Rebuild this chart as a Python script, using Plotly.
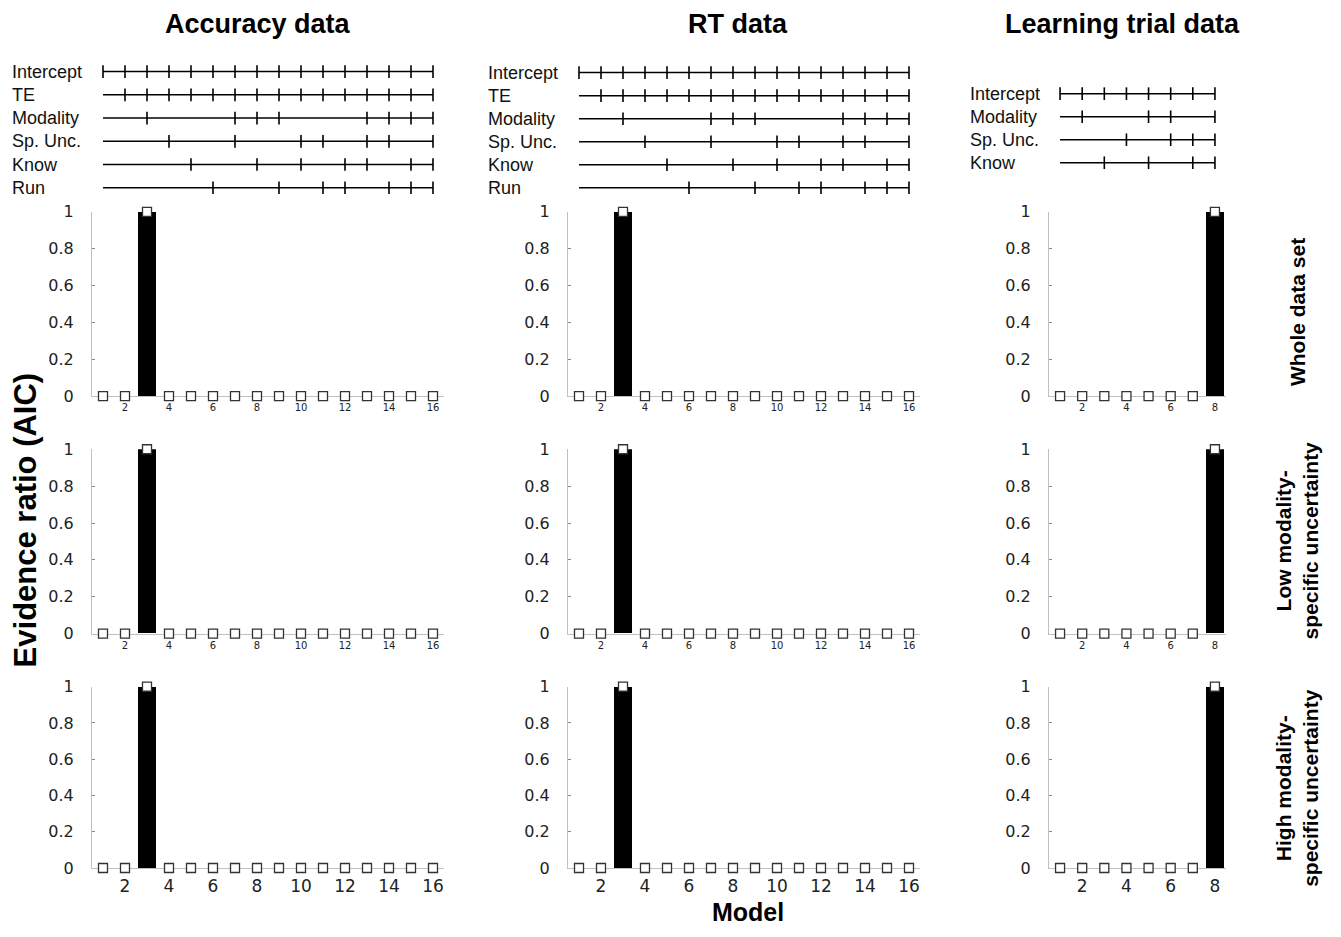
import plotly.graph_objects as go

# ---------------- data ----------------
models_16 = list(range(1, 17))
models_8 = list(range(1, 9))

# Evidence ratios (AIC)
acc_whole = [0, 0, 1, 0, 0, 0, 0, 0, 0, 0, 0, 0, 0, 0, 0, 0]
acc_low = [0, 0, 1, 0, 0, 0, 0, 0, 0, 0, 0, 0, 0, 0, 0, 0]
acc_high = [0, 0, 1, 0, 0, 0, 0, 0, 0, 0, 0, 0, 0, 0, 0, 0]
rt_whole = [0, 0, 1, 0, 0, 0, 0, 0, 0, 0, 0, 0, 0, 0, 0, 0]
rt_low = [0, 0, 1, 0, 0, 0, 0, 0, 0, 0, 0, 0, 0, 0, 0, 0]
rt_high = [0, 0, 1, 0, 0, 0, 0, 0, 0, 0, 0, 0, 0, 0, 0, 0]
learn_whole = [0, 0, 0, 0, 0, 0, 0, 1]
learn_low = [0, 0, 0, 0, 0, 0, 0, 1]
learn_high = [0, 0, 0, 0, 0, 0, 0, 1]

# Model structure: models that include each term
terms_16 = ["Intercept", "TE", "Modality", "Sp. Unc.", "Know", "Run"]
acc_intercept = list(range(1, 17))
acc_te = list(range(2, 17))
acc_modality = [3, 7, 8, 9, 13, 14, 15, 16]
acc_spunc = [4, 7, 10, 11, 13, 14, 16]
acc_know = [5, 8, 10, 12, 13, 15, 16]
acc_run = [6, 9, 11, 12, 14, 15, 16]

rt_intercept = list(range(1, 17))
rt_te = list(range(2, 17))
rt_modality = [3, 7, 8, 9, 13, 14, 15, 16]
rt_spunc = [4, 7, 10, 11, 13, 14, 16]
rt_know = [5, 8, 10, 12, 13, 15, 16]
rt_run = [6, 9, 11, 12, 14, 15, 16]

terms_8 = ["Intercept", "Modality", "Sp. Unc.", "Know"]
learn_intercept = list(range(1, 9))
learn_modality = [2, 5, 6, 8]
learn_spunc = [4, 6, 7, 8]
learn_know = [3, 5, 7, 8]

col_titles = ["Accuracy data", "RT data", "Learning trial data"]
row_titles = ["Whole data set", "Low modality-<br>specific uncertainty",
              "High modality-<br>specific uncertainty"]
y_ticks = [0, 0.2, 0.4, 0.6, 0.8, 1]
y_ticktext = ["0", "0.2", "0.4", "0.6", "0.8", "1"]

# ---------------- layout helpers ----------------
W, H = 1341, 937
# empirical vertical correction
VA, VB = 0.978, 9.5


def fx(p):
    return p / W


def fy(p):
    p = (p - VB) / VA
    return 1 - p / H


col_px = [(92, 444), (568, 920), (1049, 1226)]
row_px = [(212, 396), (449, 633), (686, 867)]
col_models = [models_16, models_16, models_8]
series = [[acc_whole, rt_whole, learn_whole],
          [acc_low, rt_low, learn_low],
          [acc_high, rt_high, learn_high]]

TXT = "Liberation Sans, Arial, sans-serif"
TICK = "DejaVu Sans, Verdana, sans-serif"

fig = go.Figure()
layout = {}
ax = 0
for r in range(3):
    for c in range(3):
        ax += 1
        xs = col_models[c]
        vals = series[r][c]
        n = len(xs)
        xa = "x" if ax == 1 else f"x{ax}"
        ya = "y" if ax == 1 else f"y{ax}"
        fig.add_trace(go.Bar(x=xs, y=vals, width=0.85, marker_color="black",
                             marker_line_width=0, xaxis=xa, yaxis=ya,
                             showlegend=False))
        fig.add_trace(go.Scatter(x=xs, y=vals, mode="markers", cliponaxis=False,
                                 marker=dict(symbol="square", size=9, color="white",
                                             line=dict(color="#333333", width=1.3)),
                                 xaxis=xa, yaxis=ya, showlegend=False))
        small = r < 2
        layout["xaxis" + ("" if ax == 1 else str(ax))] = dict(
            domain=[fx(col_px[c][0]), fx(col_px[c][1])], range=[0.5, n + 0.5],
            anchor=ya, showline=True, linecolor="#c0c0c0", linewidth=1.2,
            showgrid=False, zeroline=False, ticks="", layer="below traces",
            tickvals=list(range(2, n + 1, 2)),
            tickfont=dict(family=TICK, size=10 if small else 17, color="#222"),
            ticklabelstandoff=2)
        layout["yaxis" + ("" if ax == 1 else str(ax))] = dict(
            domain=[fy(row_px[r][1]), fy(row_px[r][0])], range=[0, 1],
            anchor=xa, showline=True, linecolor="#c0c0c0", linewidth=1.2,
            showgrid=False, zeroline=False, ticks="inside", ticklen=3,
            tickcolor="#888", layer="below traces",
            tickvals=y_ticks, ticktext=y_ticktext,
            tickfont=dict(family=TICK, size=16, color="#222"),
            ticklabelstandoff=14)

# ---------------- model structure diagrams ----------------
diagrams = [
    (terms_16, [acc_intercept, acc_te, acc_modality, acc_spunc, acc_know, acc_run], 72, 23.2, 10),
    (terms_16, [rt_intercept, rt_te, rt_modality, rt_spunc, rt_know, rt_run], 73, 23.0, 486),
    (terms_8, [learn_intercept, learn_modality, learn_spunc, learn_know], 94, 23.0, 968),
]
annotations = []
for c, (terms, incl, y0, dy, lx) in enumerate(diagrams):
    ax = 10 + c
    xa, ya = f"x{ax}", f"y{ax}"
    n = len(col_models[c])
    k = len(terms)
    top = y0 - dy / 2
    bot = y0 + dy * (k - 1) + dy / 2
    for i, (term, mods) in enumerate(zip(terms, incl)):
        fig.add_trace(go.Scatter(x=[1, n], y=[i, i], mode="lines",
                                 line=dict(color="black", width=1.5),
                                 xaxis=xa, yaxis=ya, showlegend=False, hoverinfo="skip"))
        fig.add_trace(go.Scatter(x=mods, y=[i] * len(mods), mode="markers",
                                 marker=dict(symbol="line-ns", size=9,
                                             line=dict(color="black", width=1.6)),
                                 xaxis=xa, yaxis=ya, showlegend=False, cliponaxis=False))
        annotations.append(dict(x=fx(lx), xref="paper", xanchor="left",
                                y=i, yref=ya, yanchor="middle", text=term,
                                showarrow=False,
                                font=dict(family=TXT, size=18, color="#111")))
    layout[f"xaxis{ax}"] = dict(domain=[fx(col_px[c][0]), fx(col_px[c][1])],
                                range=[0.5, n + 0.5], visible=False, anchor=ya)
    layout[f"yaxis{ax}"] = dict(domain=[fy(bot), fy(top)], range=[k - 0.5, -0.5],
                                visible=False, anchor=xa)

# ---------------- titles ----------------
col_title_x = [258, 738, 1122]
for t, x in zip(col_titles, col_title_x):
    annotations.append(dict(x=fx(x), y=fy(24), xref="paper", yref="paper",
                            xanchor="center", yanchor="middle",
                            text=f"<b>{t}</b>", showarrow=False,
                            font=dict(family=TXT, size=27, color="black")))
row_title_y = [312, 540, 787]
for t, y in zip(row_titles, row_title_y):
    annotations.append(dict(x=fx(1297), y=fy(y), xref="paper", yref="paper",
                            xanchor="center", yanchor="middle",
                            text=f"<b>{t}</b>", showarrow=False, textangle=-90,
                            font=dict(family=TXT, size=21, color="black")))
annotations.append(dict(x=fx(25), y=fy(520), xref="paper", yref="paper",
                        xanchor="center", yanchor="middle",
                        text="<b>Evidence ratio (AIC)</b>", showarrow=False,
                        textangle=-90, font=dict(family=TXT, size=31, color="black")))
annotations.append(dict(x=fx(748), y=0, xref="paper", yref="paper",
                        xanchor="center", yanchor="bottom",
                        text="<b>Model</b>", showarrow=False, borderpad=0,
                        font=dict(family=TXT, size=25, color="black")))

fig.update_layout(width=W, height=H, autosize=False,
                  margin=dict(l=0, r=0, t=0, b=0),
                  paper_bgcolor="white", plot_bgcolor="white",
                  annotations=annotations, bargap=0, **layout)

fig.write_html("out.html", config={"displayModeBar": False},
               post_script="document.body.style.margin='0';"
                           "document.documentElement.style.overflow='hidden';")
